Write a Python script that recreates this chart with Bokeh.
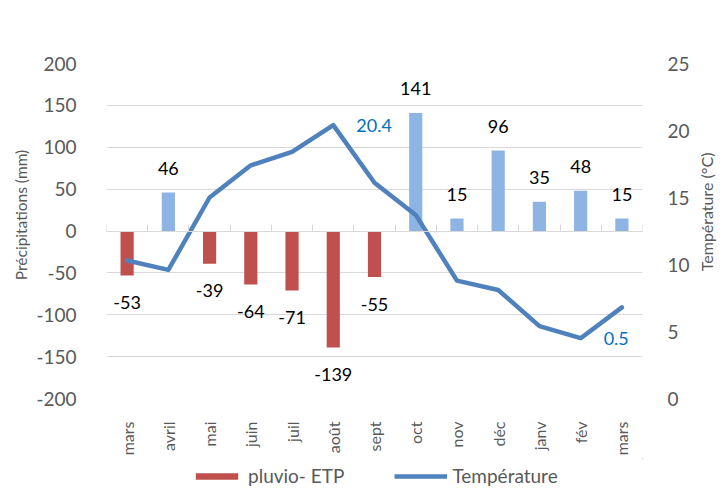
import math
from bokeh.plotting import figure
from bokeh.layouts import column
from bokeh.models import (ColumnDataSource, Range1d, LinearAxis, FixedTicker,
                          Legend, LegendItem)
from bokeh.core.properties import value
from bokeh.embed import file_html
from bokeh.resources import INLINE

# ---- data ----
months = ["mars", "avril", "mai", "juin", "juil", "août", "sept", "oct",
          "nov", "déc", "janv", "fév", "mars"]
pluvio_etp = [-53, 46, -39, -64, -71, -139, -55, 141, 15, 96, 35, 48, 15]
temperature = [10.3, 9.6, 15.0, 17.4, 18.4, 20.4, 16.1, 13.7, 8.8, 8.1, 5.4, 4.5, 6.8]
temp_labels = ["", "", "", "", "", "20.4", "", "", "", "", "", "0.5", ""]
left_ticks = [-200, -150, -100, -50, 0, 50, 100, 150, 200]
right_ticks = [0, 5, 10, 15, 20, 25]
left_title = "Précipitations (mm)"
right_title = "Température (°C)"
legend_labels = ["pluvio- ETP", "Température"]

FONT = "Lato"
GREY = "#595959"
GRID = "#D9D9D9"
RED = "#C0504D"
BLUE_BAR = "#8DB4E2"
LINE = "#4F81BD"
LBL_BLUE = "#0070C0"

n = len(months)
xs = [i + 0.5 for i in range(n)]
bar_colors = [RED if v < 0 else BLUE_BAR for v in pluvio_etp]
lbl_off = [27 if v < 0 else -24 for v in pluvio_etp]

bars = ColumnDataSource(dict(x=xs, top=pluvio_etp, color=bar_colors,
                             txt=[str(v) for v in pluvio_etp], yoff=lbl_off))
temps = ColumnDataSource(dict(x=xs, t=temperature, txt=temp_labels))

p = figure(width=728, height=458, output_backend="svg", toolbar_location=None,
           x_range=Range1d(0, n), y_range=Range1d(-200, 200),
           min_border_left=101, min_border_right=84, min_border_top=63,
           min_border_bottom=57)
p.extra_y_ranges = {"temp": Range1d(0, 25)}
p.outline_line_color = None
p.background_fill_color = "white"
p.border_fill_color = "white"

# grid
p.xgrid.visible = False
p.ygrid.ticker = FixedTicker(ticks=left_ticks)
p.ygrid.grid_line_color = GRID
p.ygrid.grid_line_width = 1


def style_axis(ax, size, standoff):
    ax.axis_line_color = None
    ax.major_tick_line_color = None
    ax.minor_tick_line_color = None
    ax.major_label_standoff = standoff
    ax.major_label_text_font = FONT
    ax.major_label_text_font_size = size
    ax.major_label_text_color = GREY


# left axis (ticks)
ya = p.yaxis[0]
ya.ticker = FixedTicker(ticks=left_ticks)
ya.major_label_overrides = {t: str(t) for t in left_ticks}
style_axis(ya, "19px", 24)

# left title (rotated single label on an outer axis)
lt_pos = 97
lt = LinearAxis(ticker=FixedTicker(ticks=[lt_pos]),
                major_label_overrides={lt_pos: left_title},
                major_label_orientation=math.pi / 2)
style_axis(lt, "15.5px", 6)
p.add_layout(lt, "left")

# right axis (ticks)
ra = LinearAxis(y_range_name="temp", ticker=FixedTicker(ticks=right_ticks))
style_axis(ra, "19px", 19)
p.add_layout(ra, "right")

# right title
rt_pos = 9.5
rt = LinearAxis(y_range_name="temp", ticker=FixedTicker(ticks=[rt_pos]),
                major_label_overrides={rt_pos: right_title},
                major_label_orientation=math.pi / 2)
style_axis(rt, "16px", 8)
p.add_layout(rt, "right")

# bottom month axis
xa = p.xaxis[0]
xa.ticker = FixedTicker(ticks=xs)
xa.major_label_overrides = {x: m for x, m in zip(xs, months)}
xa.major_label_orientation = math.pi / 2
style_axis(xa, "16px", 17)

# zero line axis with category-boundary ticks
za = LinearAxis(fixed_location=0, ticker=FixedTicker(ticks=list(range(n + 1))))
za.axis_line_color = GRID
za.axis_line_width = 1
za.major_tick_line_color = GRID
za.major_tick_out = 7
za.major_tick_in = 0
za.minor_tick_line_color = None
za.major_label_text_font_size = "0px"
za.major_label_standoff = 0
p.add_layout(za, "above")

# bars
vb = p.vbar(x="x", top="top", bottom=0, width=0.32, fill_color="color",
            line_color=None, source=bars)
p.text(x="x", y="top", text="txt", y_offset="yoff", source=bars,
       text_align="center", text_baseline="middle", text_font=value(FONT),
       text_font_size="18px", text_color="#000000")

# temperature line
ln = p.line(x="x", y="t", y_range_name="temp", source=temps, line_color=LINE,
            line_width=4.5, line_join="round", line_cap="round")
p.text(x="x", y="t", text="txt", y_range_name="temp", source=temps,
       x_offset=23, text_align="left", text_baseline="middle",
       text_font=value(FONT), text_font_size="18px", text_color=LBL_BLUE)

# legend strip (separate figure under the chart; its view shows no data)
q = figure(width=728, height=32, output_backend="svg", toolbar_location=None,
           x_range=Range1d(-3, -2), y_range=Range1d(-300, -250), min_border=0)
q.axis.visible = False
q.grid.visible = False
q.outline_line_color = None
q.background_fill_color = "white"
q.border_fill_color = "white"
rb = q.vbar(x="x", top="top", bottom=0, width=0.32, fill_color="color",
            line_color=None, source=bars)
rl = q.line(x="x", y="t", source=temps, line_color=LINE, line_width=4.5)
legend = Legend(items=[LegendItem(label=legend_labels[0], renderers=[rb], index=0),
                       LegendItem(label=legend_labels[1], renderers=[rl])],
                orientation="horizontal", location=(84, 3),
                glyph_width=53, glyph_height=8, label_standoff=5, spacing=50,
                label_text_font=FONT, label_text_font_size="19px",
                label_text_color=GREY, background_fill_alpha=0,
                border_line_color=None, padding=0, margin=0)
q.add_layout(legend, "center")

layout = column(p, q, spacing=0)
open("out.html", "w").write(file_html(layout, INLINE))
